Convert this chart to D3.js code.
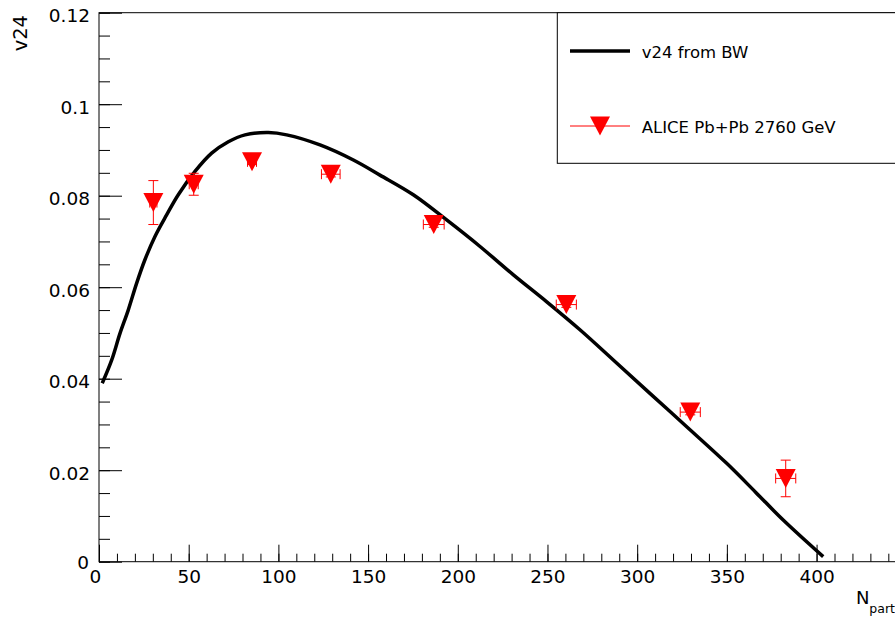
<!DOCTYPE html>
<html>
<head>
<meta charset="utf-8">
<script src="https://cdn.jsdelivr.net/npm/d3@7"></script>
<style>
  body { margin: 0; background: #fff; }
  svg text { font-family: "DejaVu Sans", Verdana, sans-serif; }
</style>
</head>
<body>
<div id="container"></div>
<script>
/* DATA */
// blast-wave curve
const bwNpart = [1.8, 7.1, 11.7, 16.3, 21, 25.6, 31.2, 37.7, 44.2, 53.5, 62.8, 72.1, 81.4, 94.4, 104.6, 123.2, 141.8, 156.6, 175.2, 193.8, 212.4, 231, 249.6, 268.1, 286.7, 307.1, 329.6, 349.9, 366, 381.4, 403.7]
const bwV24 = [0.0390, 0.0441, 0.0499, 0.0550, 0.0609, 0.0660, 0.0711, 0.0758, 0.0802, 0.0853, 0.0893, 0.0918, 0.0933, 0.0938, 0.0933, 0.0911, 0.0878, 0.0845, 0.0802, 0.0747, 0.0689, 0.0627, 0.0568, 0.0507, 0.0441, 0.0368, 0.0288, 0.0215, 0.0152, 0.0091, 0.0011]

// ALICE points
const aliceNpart = [30.3, 52.8, 85.3, 129.2, 186.6, 260.5, 329.6, 382.8]
const aliceV24 = [0.0785, 0.0825, 0.0874, 0.0847, 0.0737, 0.0562, 0.0327, 0.0182]
const aliceErrY = [0.0048, 0.0024, 0.0006, 0.0006, 0.0006, 0.0006, 0.0006, 0.0040]
const aliceErrX = [2, 2.5, 2.5, 5.2, 5.8, 5.6, 5.6, 5.6]

const xMajorTicks = [0, 50, 100, 150, 200, 250, 300, 350, 400]
const yMajorTicks = [0, 0.02, 0.04, 0.06, 0.08, 0.1, 0.12]
const legendLabels = ["v24 from BW", "ALICE Pb+Pb 2760 GeV"]

/* CONSTANTS */
const width = 895, height = 618
const frame = { left: 99, right: 895.5, top: 12.7, bottom: 561.7 }
const red = "#ff0000"

const xScale = d3.scaleLinear()
  .domain([0, 444])
  .range([frame.left, frame.right])

const yScale = d3.scaleLinear()
  .domain([0, 0.12])
  .range([frame.bottom, frame.top])

const svg = d3.select("#container")
  .append("svg")
  .attr("width", width)
  .attr("height", height)

// FRAME
svg.append("rect")
  .attr("x", frame.left)
  .attr("y", frame.top)
  .attr("width", 900 - frame.left)
  .attr("height", frame.bottom - frame.top)
  .attr("fill", "none")
  .attr("stroke", "#000")
  .attr("stroke-width", 1)

// AXES
const yMinor = d3.axisLeft(yScale)
  .tickValues(d3.range(0, 0.1201, 0.005))
  .tickFormat("")
  .tickSizeInner(-11).tickSizeOuter(0)

const yMajor = d3.axisLeft(yScale)
  .tickValues(yMajorTicks)
  .tickFormat(d => d === 0 ? "0" : d3.format("")(+d.toFixed(2)))
  .tickSizeInner(-23).tickSizeOuter(0)
  .tickPadding(9)

const xMinor = d3.axisBottom(xScale)
  .tickValues(d3.range(0, 441, 10))
  .tickFormat("")
  .tickSizeInner(-8).tickSizeOuter(0)

const xMajor = d3.axisBottom(xScale)
  .tickValues(xMajorTicks)
  .tickSizeInner(-17).tickSizeOuter(0)
  .tickPadding(8)

const styleAxis = g => {
  g.select(".domain").remove()
  g.selectAll("line").attr("stroke", "#000").attr("stroke-width", 1)
  g.selectAll("text")
    .attr("fill", "#000")
    .style("font-size", "18.5px")
}

svg.append("g").attr("transform", `translate(${frame.left},0)`).call(yMinor).call(styleAxis)
svg.append("g").attr("transform", `translate(${frame.left},0)`).call(yMajor).call(styleAxis)
  .selectAll("text").attr("dy", d => d === 0 ? "0.36em" : "0.49em")
  .attr("x", d => d === 0 ? -10 : -9)
svg.append("g").attr("transform", `translate(0,${frame.bottom})`).call(xMinor).call(styleAxis)
svg.append("g").attr("transform", `translate(0,${frame.bottom})`).call(xMajor).call(styleAxis)
  .selectAll("text").attr("dx", d => d === 0 ? "-4" : "0")

// AXIS TITLES
svg.append("text")
  .attr("transform", `translate(27, 15) rotate(-90)`)
  .attr("text-anchor", "end")
  .style("font-size", "19.5px")
  .text("v24")

const xTitle = svg.append("text")
  .attr("x", 895)
  .attr("y", 604)
  .attr("text-anchor", "end")
  .style("font-size", "18px")
xTitle.append("tspan").text("N")
xTitle.append("tspan").attr("dy", 9).style("font-size", "12.5px").text("part")

// BW CURVE
const bwData = bwNpart.map((n, i) => ({ n: n, v: bwV24[i] }))
const lineGen = d3.line()
  .x(d => xScale(d.n))
  .y(d => yScale(d.v))
  .curve(d3.curveCatmullRom.alpha(0.5))

svg.append("path")
  .datum(bwData)
  .attr("fill", "none")
  .attr("stroke", "#000")
  .attr("stroke-width", 3.5)
  .attr("d", lineGen)

// ALICE POINTS
const alice = aliceNpart.map((n, i) => ({ n: n, v: aliceV24[i], ey: aliceErrY[i], ex: aliceErrX[i] }))
const tri = (cx, cy) => `M${cx - 10},${cy - 9.5}L${cx + 10},${cy - 9.5}L${cx},${cy + 9.5}Z`

const pts = svg.selectAll(".pt")
  .data(alice)
  .join("g")
  .attr("class", "pt")

pts.append("path") // vertical error
  .attr("fill", "none").attr("stroke", red).attr("stroke-width", 1)
  .attr("d", d => {
    const x = xScale(d.n), y0 = yScale(d.v - d.ey), y1 = yScale(d.v + d.ey)
    return `M${x},${y0}L${x},${y1}M${x - 5},${y0}L${x + 5},${y0}M${x - 5},${y1}L${x + 5},${y1}`
  })

pts.append("path") // horizontal error
  .attr("fill", "none").attr("stroke", red).attr("stroke-width", 1)
  .attr("d", d => {
    const y = yScale(d.v), x0 = xScale(d.n - d.ex), x1 = xScale(d.n + d.ex)
    return `M${x0},${y}L${x1},${y}M${x0},${y - 5}L${x0},${y + 5}M${x1},${y - 5}L${x1},${y + 5}`
  })

pts.append("path")
  .attr("fill", red)
  .attr("d", d => tri(xScale(d.n), yScale(d.v)))

// LEGEND
svg.append("rect")
  .attr("x", 557.3)
  .attr("y", frame.top)
  .attr("width", 400)
  .attr("height", 163.3 - frame.top)
  .attr("fill", "#fff")
  .attr("stroke", "#000")
  .attr("stroke-width", 1)

svg.append("line")
  .attr("x1", 570).attr("x2", 630).attr("y1", 51).attr("y2", 51)
  .attr("stroke", "#000").attr("stroke-width", 3.5)

svg.append("line")
  .attr("x1", 570).attr("x2", 630).attr("y1", 126).attr("y2", 126)
  .attr("stroke", red).attr("stroke-width", 1)
svg.append("path").attr("fill", red).attr("d", tri(600, 126))

svg.selectAll(".legText")
  .data(legendLabels)
  .join("text")
  .attr("class", "legText")
  .attr("x", 641.7)
  .attr("y", (d, i) => i === 0 ? 58.3 : 133.3)
  .style("font-size", "16.5px")
  .text(d => d)
</script>
</body>
</html>
